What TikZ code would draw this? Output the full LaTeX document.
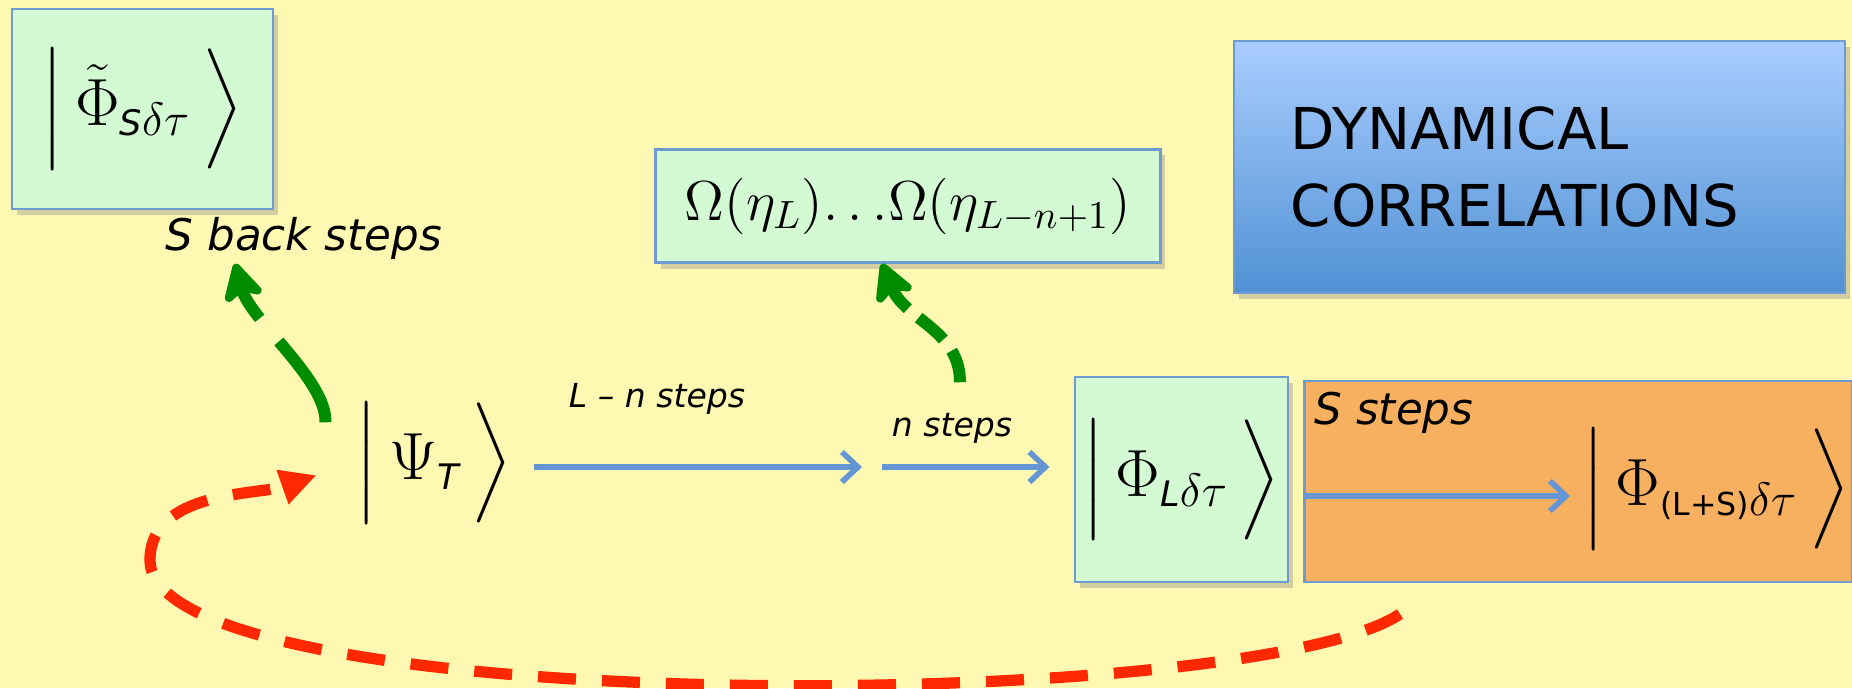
\RequirePackage{fix-cm}
\documentclass[tikz,border=0pt]{standalone}
\usepackage{amsmath, amssymb}
\usepackage{fontspec}
\usepackage{tikz}
\usetikzlibrary{arrows.meta, positioning, calc, shadows}
\newfontfamily\comic{DejaVu Sans}
\definecolor{bgyellow}{RGB}{255, 248, 178}
\definecolor{boxgreen}{RGB}{212, 250, 212}
\definecolor{edgeblue}{RGB}{110, 155, 210}
\definecolor{flowblue}{RGB}{100, 150, 212}
\definecolor{arrgreen}{RGB}{0, 140, 0}
\definecolor{loopred}{RGB}{255, 40, 0}
\definecolor{dyntop}{RGB}{170, 205, 255}
\definecolor{dynbot}{RGB}{80, 145, 212}
\definecolor{orangebox}{RGB}{247, 175, 96}
\newcommand{\cs}[1]{\text{\comic\itshape\fontsize{10}{12}\selectfont #1}}
\newcommand{\cu}[1]{\text{\comic\fontsize{9}{11}\selectfont #1}}
\newcommand{\bket}[1]{\left|\,#1\vrule height 1.2em depth 0.7em width 0pt\,\right\rangle}

\begin{document}
\begin{tikzpicture}[x=0.01cm, y=-0.01cm,
  statebox/.style={draw=edgeblue, line width=0.8pt, fill=boxgreen, inner sep=0pt,
    drop shadow={shadow xshift=0.05cm, shadow yshift=-0.06cm, opacity=0.35}},
  ket/.style={inner sep=1pt, font=\fontsize{19}{23}\selectfont},
  steplabel/.style={inner sep=0pt, font=\comic\itshape\fontsize{9.4}{11}\selectfont},
  biglabel/.style={inner sep=0pt, font=\comic\itshape\fontsize{12.4}{15}\selectfont},
  flow/.style={flowblue, line width=1.6pt, -{Straight Barb[length=0.16cm, width=0.3cm]}},
  backarrow/.style={arrgreen, line width=3.4pt,
    -{Stealth[length=0.45cm, width=0.48cm, inset=0.12cm, round]}},
  looparrow/.style={loopred, line width=3.2pt, dash pattern=on 0.38cm off 0.26cm,
    -{Triangle[length=0.36cm, width=0.34cm]}}]

  \useasboundingbox (0,0) rectangle (1852,688);
  \fill[bgyellow] (0,0) rectangle (1852,688);

  % boxes
  \node[statebox, ket, minimum width=2.61cm, minimum height=2.0cm] (phit) at (142.5,109)
    {$\bket{\tilde{\Phi}_{\cs{S}\delta\tau}}$};
  \node[statebox, minimum width=5.04cm, minimum height=1.13cm, font=\fontsize{16}{19}\selectfont]
    (omega) at (908,206) {$\Omega(\eta_L){\ldots}\Omega(\eta_{L-n+1})$};
  \node[draw=edgeblue, line width=0.6pt, top color=dyntop, bottom color=dynbot,
    drop shadow={shadow xshift=0.05cm, shadow yshift=-0.06cm, opacity=0.35},
    minimum width=6.11cm, minimum height=2.52cm, text width=4.97cm, inner xsep=0.57cm,
    inner ysep=0pt, align=left, font=\comic\fontsize{16.4}{21.8}\selectfont]
    (dyn) at (1539.5,167) {DYNAMICAL\\CORRELATIONS};
  \node[draw=edgeblue, line width=0.8pt, fill=orangebox, minimum width=5.47cm,
    minimum height=2.01cm] (sbox) at (1578.5,481.5) {};
  \node[statebox, ket, minimum width=2.13cm, minimum height=2.05cm] (phil) at (1181.5,479.5)
    {$\bket{\Phi_{\cs{L}\delta\tau}}$};

  % states and labels
  \node[ket] (psi) at (434,463) {$\bket{\Psi_{\cs{T}}}$};
  \node[ket, anchor=west] (phils) at (1578,489) {$\bket{\Phi_{\cu{(L+S)}\delta\tau}}$};
  \node[biglabel] (back) at (304,238) {S back steps};
  \node[steplabel] (lnlab) at (657,399) {L – n steps};
  \node[steplabel] (nlab) at (952,428) {n steps};
  \node[biglabel, anchor=west] (slab) at (1314,413) {S steps};

  % connectors
  \coordinate (split) at (872,467);
  \coordinate (loopstart) at (1400,614);
  \draw[flow, shorten <=0.17cm, shorten >=0.1cm] (psi.east |- split) -- (split);
  \draw[flow, shorten <=0.1cm, shorten >=0.24cm] (split) -- (phil.west |- split);
  \draw[flow, shorten >=0.08cm] (sbox.west |- 0,496) -- (phils.west |- 0,496);
  \draw[backarrow, dash pattern=on 0.95cm off 0.3cm]
    ($(psi.north west)+(-26,27)$) .. controls (327,380) and (250,320) .. ($(back.south west)+(70,4)$);
  \draw[backarrow, dash pattern=on 0.33cm off 0.14cm]
    ($(nlab.north)+(8,-30)$) .. controls (960,330) and (905,320) .. ($(omega.south)+(-26,0)$);
  \draw[looparrow, shorten >=0.37cm] (loopstart) .. controls (1250,715) and (150,720) .. (150,560)
    .. controls (150,490) and (260,495) .. (psi.west);
\end{tikzpicture}
\end{document}
